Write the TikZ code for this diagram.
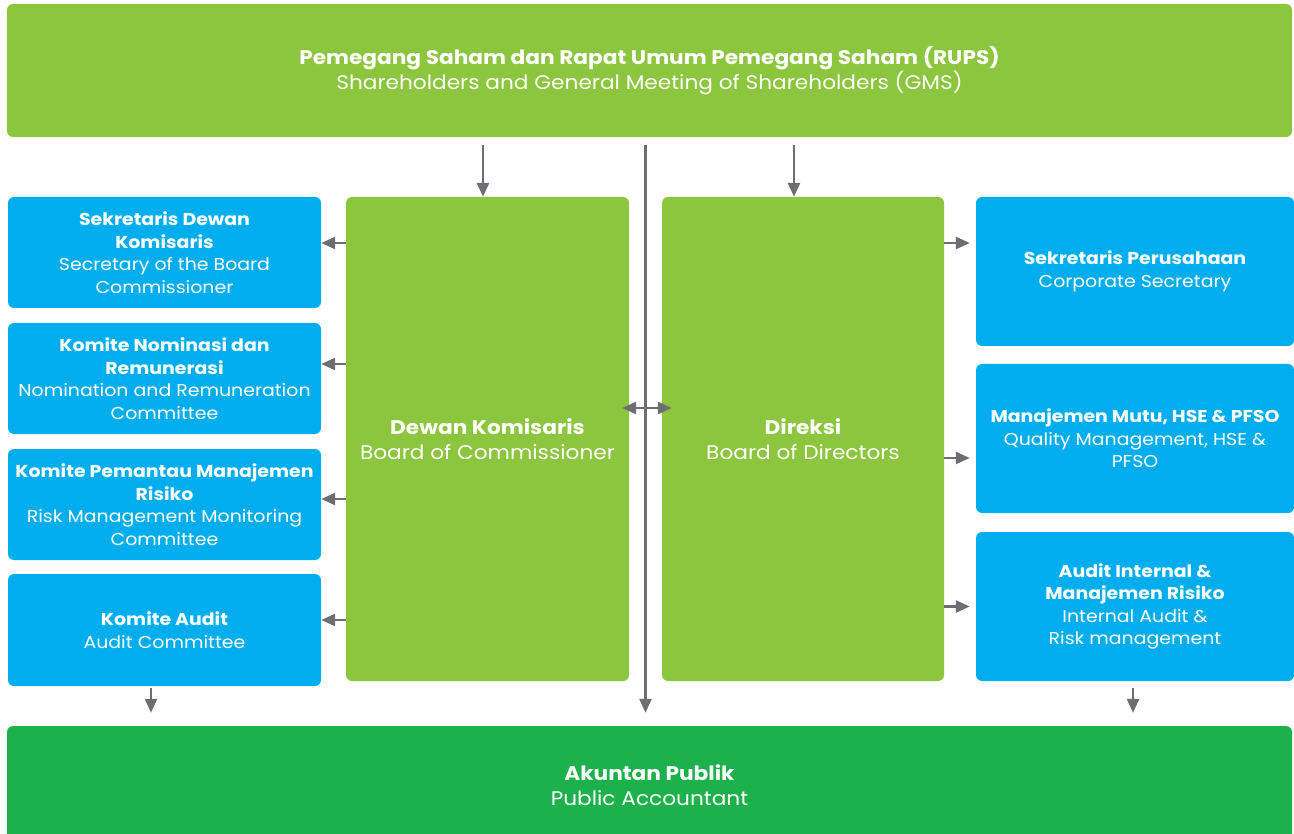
\documentclass[tikz,border=0pt]{standalone}
\usepackage{fontspec}
\setmainfont{Poppins}[FakeStretch=1.1]
\usetikzlibrary{arrows.meta,calc}
\definecolor{lgreen}{HTML}{8CC63F}
\definecolor{cblue}{HTML}{00AEEF}
\definecolor{dgreen}{HTML}{1DB14B}
\definecolor{agray}{HTML}{6D6E71}
\begin{document}
\begin{tikzpicture}[x=1pt,y=-1pt,
  box/.style={rounded corners=6pt,inner sep=0pt,text=white,align=center,anchor=center},
  bigbox/.style={box,font=\fontsize{19.7}{25.5}\selectfont},
  smallbox/.style={box,fill=cblue,font=\fontsize{17.2}{22.6}\selectfont},
  arr/.style={draw=agray,line width=2.5pt,-{Triangle[length=14pt,width=12pt]}},
  darr/.style={draw=agray,line width=2.5pt,{Triangle[length=14pt,width=12pt]}-{Triangle[length=14pt,width=12pt]}}]
\useasboundingbox (0,0) rectangle (1294,834);
\clip (0,0) rectangle (1294,834);
% top
\node[bigbox,fill=lgreen,minimum width=1285pt,minimum height=133pt] (gms) at (649.5,70.5)
  {\textbf{Pemegang Saham dan Rapat Umum Pemegang Saham (RUPS)}\\Shareholders and General Meeting of Shareholders (GMS)};
% left column
\node[smallbox,minimum width=313pt,minimum height=111pt] (l1) at (164.5,252.5)
  {\textbf{Sekretaris Dewan}\\\textbf{Komisaris}\\Secretary of the Board\\Commissioner};
\node[smallbox,minimum width=313pt,minimum height=111pt] (l2) at (164.5,378.5)
  {\textbf{Komite Nominasi dan}\\\textbf{Remunerasi}\\Nomination and Remuneration\\Committee};
\node[smallbox,minimum width=313pt,minimum height=111pt] (l3) at (164.5,504.5)
  {\textbf{Komite Pemantau Manajemen}\\\textbf{Risiko}\\Risk Management Monitoring\\Committee};
\node[smallbox,minimum width=313pt,minimum height=112pt] (l4) at (164.5,630)
  {\textbf{Komite Audit}\\Audit Committee};
% central boxes
\node[bigbox,fill=lgreen,minimum width=283pt,minimum height=484pt] (dk) at (487.5,439)
  {\textbf{Dewan Komisaris}\\Board of Commissioner};
\node[bigbox,fill=lgreen,minimum width=282pt,minimum height=484pt] (dir) at (803,439)
  {\textbf{Direksi}\\Board of Directors};
% right column
\node[smallbox,minimum width=318pt,minimum height=149pt] (r1) at (1135,271.5)
  {\textbf{Sekretaris Perusahaan}\\Corporate Secretary};
\node[smallbox,minimum width=318pt,minimum height=149pt] (r2) at (1135,438.5)
  {\textbf{Manajemen Mutu, HSE \& PFSO}\\Quality Management, HSE \&\\PFSO};
\node[smallbox,minimum width=318pt,minimum height=149pt] (r3) at (1135,606.5)
  {\textbf{Audit Internal \&}\\\textbf{Manajemen Risiko}\\Internal Audit \&\\Risk management};
% bottom
\node[bigbox,fill=dgreen,minimum width=1285pt,minimum height=118pt] (ap) at (649.5,785)
  {\textbf{Akuntan Publik}\\Public Accountant};
% connectors from GMS
\draw[arr] ([xshift=-4.5pt,yshift=-8pt]gms.south -| dk.north) -- ([xshift=-4.5pt]dk.north);
\draw[arr] ([xshift=-9pt,yshift=-8pt]gms.south -| dir.north) -- ([xshift=-9pt]dir.north);
\coordinate (mid) at ($(dk.east)!0.5!(dir.west)$);
\coordinate (ct) at ([yshift=-8pt]gms.south -| mid);
\coordinate (cb) at ([yshift=13pt]ap.north -| mid);
\draw[arr] (ct) -- (cb);
% double arrow between boards
\draw[darr] ([xshift=-7pt,yshift=31pt]dk.east) -- ([xshift=10pt,yshift=31pt]dir.west);
% left arrows
\draw[arr] ([yshift=9.5pt]l1.east -| dk.west) -- ([yshift=9.5pt]l1.east);
\draw[arr] ([yshift=14.5pt]l2.east -| dk.west) -- ([yshift=14.5pt]l2.east);
\draw[arr] ([yshift=5.5pt]l3.east -| dk.west) -- ([yshift=5.5pt]l3.east);
\draw[arr] ([yshift=10pt]l4.east -| dk.west) -- ([yshift=10pt]l4.east);
% right arrows
\draw[arr] ([yshift=28.5pt]r1.west -| dir.east) -- ([xshift=-6pt,yshift=28.5pt]r1.west);
\draw[arr] ([yshift=-19.5pt]r2.west -| dir.east) -- ([xshift=-6pt,yshift=-19.5pt]r2.west);
\draw[arr] (r3.west -| dir.east) -- ([xshift=-6pt]r3.west);
% down arrows to public accountant
\draw[arr] ([xshift=-13.5pt,yshift=-2pt]l4.south) -- ([xshift=-13.5pt,yshift=13pt]l4.south |- ap.north);
\draw[arr] ([xshift=-2pt,yshift=-7pt]r3.south) -- ([xshift=-2pt,yshift=13pt]r3.south |- ap.north);
\end{tikzpicture}
\end{document}
